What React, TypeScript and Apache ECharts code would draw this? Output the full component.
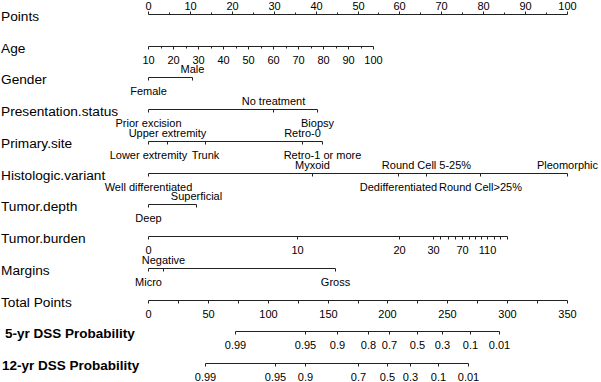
import React, { useEffect, useRef } from "react";
import * as echarts from "echarts";

// ---------- data ----------
const rowNames = [
  "Points",
  "Age",
  "Gender",
  "Presentation.status",
  "Primary.site",
  "Histologic.variant",
  "Tumor.depth",
  "Tumor.burden",
  "Margins",
  "Total Points",
  "5-yr DSS Probability",
  "12-yr DSS Probability",
];

const pointsTicks = [0, 5, 10, 15, 20, 25, 30, 35, 40, 45, 50, 55, 60, 65, 70, 75, 80, 85, 90, 95, 100];
const pointsLabels = [0, 10, 20, 30, 40, 50, 60, 70, 80, 90, 100];

const ageTicks = [10, 15, 20, 25, 30, 35, 40, 45, 50, 55, 60, 65, 70, 75, 80, 85, 90, 95, 100];
const ageLabels = [10, 20, 30, 40, 50, 60, 70, 80, 90, 100];
const ageMin = 10;
const ageMax = 100;
const agePointsAtMax = 53.7; // points for age 100 (age 10 = 0)

const genderLevels = ["Female", "Male"];
const genderPoints = [0, 10.5];

const presentationLevels = ["Prior excision", "No treatment", "Biopsy"];
const presentationPoints = [0, 29.8, 40.3];

const siteLevels = ["Lower extremity", "Upper extremity", "Trunk", "Retro-0", "Retro-1 or more"];
const sitePoints = [0, 4.5, 13.6, 36.8, 41.5];

const histLevels = ["Well differentiated", "Myxoid", "Dedifferentiated", "Round Cell 5-25%", "Round Cell>25%", "Pleomorphic"];
const histPoints = [0, 39.1, 59.7, 66.3, 79.2, 100];

const depthLevels = ["Deep", "Superficial"];
const depthPoints = [0, 11.5];

const burdenValues = [0, 10, 20, 30, 40, 50, 60, 70, 80, 90, 100, 110, 120, 130, 140];
const burdenPoints = [0, 35.6, 59.9, 68.0, 69.8, 71.6, 73.3, 74.9, 76.5, 78.0, 79.5, 80.9, 82.6, 84.1, 85.7];
const burdenShown = [0, 10, 20, 30, 70, 110];

const marginLevels = ["Micro", "Negative", "Gross"];
const marginPoints = [0, 3.6, 44.6];

const totalTicks = [0, 25, 50, 75, 100, 125, 150, 175, 200, 225, 250, 275, 300, 325, 350];
const totalLabels = [0, 50, 100, 150, 200, 250, 300, 350];
const totalMax = 350;

const dss5Labels = ["0.99", "0.95", "0.9", "0.8", "0.7", "0.5", "0.3", "0.1", "0.01"];
const dss5Total = [72.7, 131.2, 157.9, 183.8, 201.3, 224.7, 245.6, 269.0, 293.2];

const dss12Labels = ["0.99", "0.95", "0.9", "0.7", "0.5", "0.3", "0.1", "0.01"];
const dss12Total = [47.6, 106.1, 131.2, 175.4, 199.7, 218.9, 242.3, 267.3];

// ---------- row construction ----------
type Tick = { p: number; len: number };
type Lab = { p: number; text: string; above: boolean };
type Row = { name: string; bold?: boolean; min: number; max: number; up?: boolean; ticks: Tick[]; labels: Lab[] };

const totToPts = (t: number) => (t * 100) / totalMax;
const ageToPts = (a: number) => ((a - ageMin) * agePointsAtMax) / (ageMax - ageMin);

function catRow(name: string, levels: string[], pts: number[]): Row {
  return {
    name,
    min: Math.min(...pts),
    max: Math.max(...pts),
    ticks: pts.map((p) => ({ p, len: 3 })),
    labels: levels.map((t, i) => ({ p: pts[i], text: t, above: i % 2 === 1 })),
  };
}

const rows: Row[] = [
  {
    name: rowNames[0],
    min: 0,
    max: 100,
    up: true,
    ticks: pointsTicks.map((v) => ({ p: v, len: v % 10 === 0 ? 3 : 2 })),
    labels: pointsLabels.map((v) => ({ p: v, text: String(v), above: true })),
  },
  {
    name: rowNames[1],
    min: 0,
    max: ageToPts(ageMax),
    ticks: ageTicks.map((v) => ({ p: ageToPts(v), len: v % 10 === 0 ? 3 : 2 })),
    labels: ageLabels.map((v) => ({ p: ageToPts(v), text: String(v), above: false })),
  },
  catRow(rowNames[2], genderLevels, genderPoints),
  catRow(rowNames[3], presentationLevels, presentationPoints),
  catRow(rowNames[4], siteLevels, sitePoints),
  catRow(rowNames[5], histLevels, histPoints),
  catRow(rowNames[6], depthLevels, depthPoints),
  {
    name: rowNames[7],
    min: 0,
    max: Math.max(...burdenPoints),
    ticks: burdenPoints.map((p) => ({ p, len: 3 })),
    labels: burdenValues
      .map((v, i) => ({ p: burdenPoints[i], text: String(v), above: false }))
      .filter((l) => burdenShown.includes(Number(l.text))),
  },
  catRow(rowNames[8], marginLevels, marginPoints),
  {
    name: rowNames[9],
    min: 0,
    max: totToPts(totalMax),
    ticks: totalTicks.map((t) => ({ p: totToPts(t), len: 3 })),
    labels: totalLabels.map((t) => ({ p: totToPts(t), text: String(t), above: false })),
  },
  {
    name: rowNames[10],
    bold: true,
    min: totToPts(Math.min(...dss5Total)),
    max: totToPts(Math.max(...dss5Total)),
    ticks: dss5Total.map((t) => ({ p: totToPts(t), len: 3 })),
    labels: dss5Labels.map((s, i) => ({ p: totToPts(dss5Total[i]), text: s, above: false })),
  },
  {
    name: rowNames[11],
    bold: true,
    min: totToPts(Math.min(...dss12Total)),
    max: totToPts(Math.max(...dss12Total)),
    ticks: dss12Total.map((t) => ({ p: totToPts(t), len: 3 })),
    labels: dss12Labels.map((s, i) => ({ p: totToPts(dss12Total[i]), text: s, above: false })),
  },
];

const FONT = '"Liberation Sans", Arial, Helvetica, sans-serif';
const INK = "#000";
const LINE = "#222";

export default function App() {
  const ref = useRef<HTMLDivElement>(null);
  useEffect(() => {
    document.body.style.margin = "0";
    const chart = echarts.init(ref.current!, null, { renderer: "svg" });
    const option: any = {
      animation: false,
      backgroundColor: "#fff",
      grid: { left: 148, right: 34, top: 14, bottom: 19 },
      xAxis: { type: "value", min: 0, max: 100, show: false },
      yAxis: { type: "value", min: 0, max: rows.length - 1, inverse: true, show: false },
      series: [
        {
          type: "custom",
          coordinateSystem: "cartesian2d",
          clip: false,
          silent: true,
          data: rows.map((_, i) => [0, i]),
          renderItem: (params: any, api: any) => {
            const idx = api.value(1);
            const row = rows[idx];
            const y = Math.round(api.coord([0, idx])[1]) + 0.5;
            const X = (p: number) => Math.round(api.coord([p, idx])[0]) + 0.5;
            const children: any[] = [];
            children.push({
              type: "text",
              style: {
                text: row.name,
                x: idx >= 10 ? (idx === 10 ? 5 : 2) : 1,
                y: y + 2,
                align: "left",
                verticalAlign: "middle",
                font: (row.bold ? "bold 13.5px " : "13.7px ") + FONT,
                fill: INK,
              },
            });
            children.push({
              type: "line",
              shape: { x1: X(row.min), y1: y, x2: X(row.max), y2: y },
              style: { stroke: LINE, lineWidth: 1 },
            });
            row.ticks.forEach((t) => {
              const x = X(t.p);
              children.push({
                type: "line",
                shape: { x1: x, y1: y, x2: x, y2: row.up ? y - t.len : y + t.len },
                style: { stroke: LINE, lineWidth: 1 },
              });
            });
            row.labels.forEach((l) => {
              children.push({
                type: "text",
                style: {
                  text: l.text,
                  x: X(l.p),
                  y: l.above ? y - 9 : y + 13,
                  align: "center",
                  verticalAlign: "middle",
                  font: "11px " + FONT,
                  fill: INK,
                },
              });
            });
            return { type: "group", children };
          },
        },
      ],
    };
    chart.setOption(option);
    return () => chart.dispose();
  }, []);
  return <div ref={ref} style={{ width: 601, height: 382 }} />;
}
